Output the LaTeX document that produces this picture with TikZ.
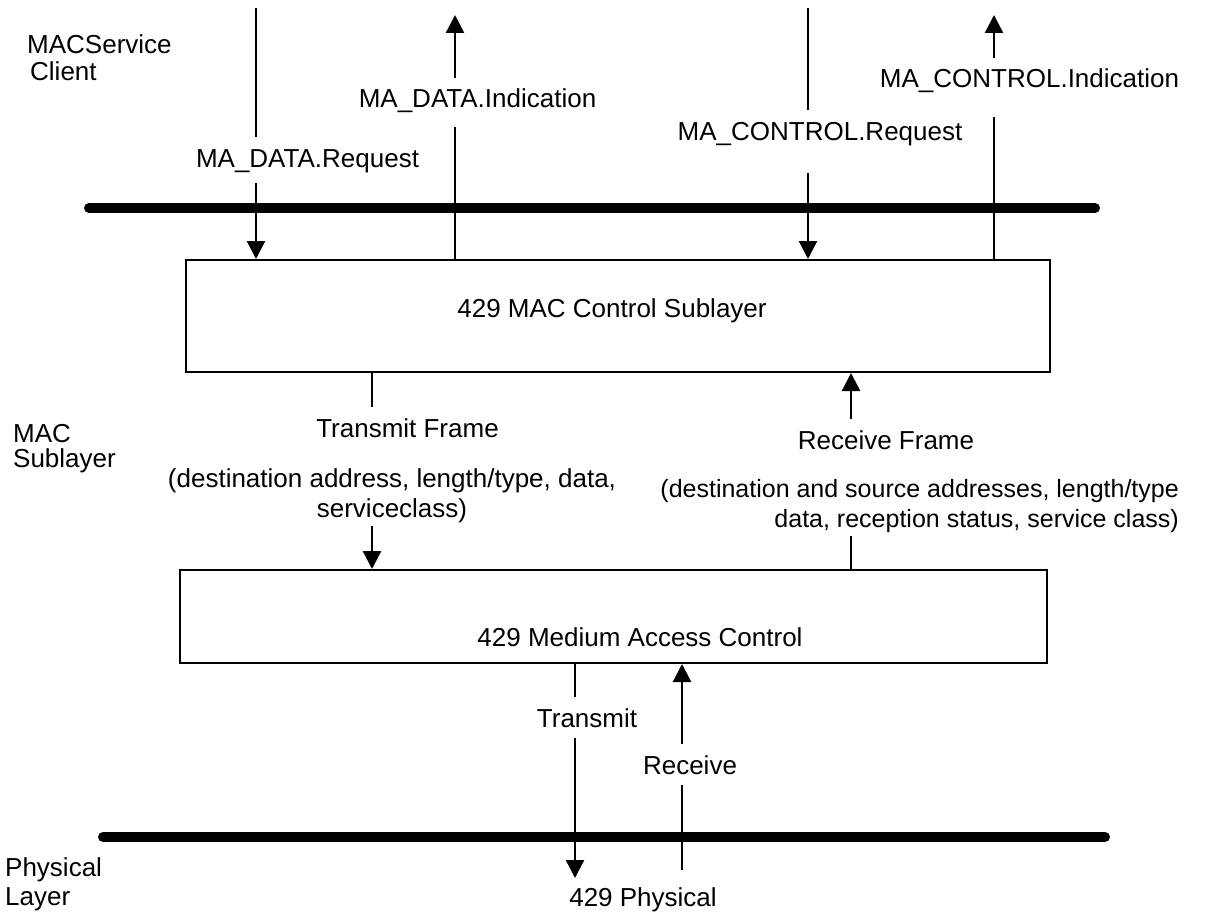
\documentclass[tikz,border=0pt]{standalone}
\usepackage{fontspec}
\setmainfont{Liberation Sans}
\usetikzlibrary{arrows.meta}

\tikzset{
  txt/.style={font=\fontsize{26}{27}\selectfont, inner xsep=0pt, inner ysep=11pt,
    text height=19pt, text depth=5pt, anchor=base},
  para/.style={font=\fontsize{26}{30}\selectfont, inner xsep=0pt, inner ysep=3pt},
  side/.style={font=\fontsize{26}{27}\selectfont, inner sep=0pt, align=left, anchor=north west},
  blk/.style={draw, line width=2pt, inner sep=0pt},
  wire/.style={line width=2.4pt},
  sig/.style={wire, -{Triangle[length=18pt,width=18pt]}},
  bus/.style={line width=10pt, line cap=round}
}

\begin{document}
\begin{tikzpicture}[x=1pt,y=-1pt]
\useasboundingbox (0,0) rectangle (1230,915);

% layer names
\node[side] (client) at (27,34) {MACService\\\hspace*{3pt}Client};
\node[side, font=\fontsize{26}{25}\selectfont] (sublayer) at (13,424) {MAC\\Sublayer};
\node[side, font=\fontsize{26}{29}\selectfont] (phylayer) at (5,857) {Physical\\Layer};

% buses
\coordinate (tb1) at (89,208);
\coordinate (tb2) at (1095,208);
\draw[bus] (tb1) -- (tb2);
\coordinate (bb1) at (103,837);
\coordinate (bb2) at (1105,837);
\draw[bus] (bb1) -- (bb2);

% sublayer blocks
\node[blk, minimum width=864pt, minimum height=112pt] (ctl) at (618,316) {};
\node[txt] (ctltext) at (612,317) {429 MAC Control Sublayer};
\node[blk, minimum width=867pt, minimum height=93pt] (mac) at (613.5,616.5) {};
\node[txt] (mactext) at (640,646) {429 Medium Access Control};

% service primitives
\coordinate (dreqtop) at (256,8);
\node[txt] (dreq) at (307.5,167) {MA\_DATA.Request};
\draw[wire] (dreqtop) -- (dreq.north -| dreqtop);
\draw[sig] (dreq.south -| dreqtop) -- (ctl.north -| dreqtop);

\coordinate (dindtop) at (455,15);
\node[txt, text depth=8pt] (dind) at (477.5,108) {MA\_DATA.Indication};
\draw[wire] (ctl.north -| dindtop) -- (dind.south -| dindtop);
\draw[sig] (dind.north -| dindtop) -- (dindtop);

\coordinate (creqtop) at (808,8);
\node[txt, text depth=22pt] (creq) at (820,140) {MA\_CONTROL.Request};
\draw[wire] (creqtop) -- (creq.north -| creqtop);
\draw[sig] (creq.south -| creqtop) -- (ctl.north -| creqtop);

\coordinate (cindtop) at (994,15);
\node[txt, text depth=18pt] (cind) at (1029.5,88) {MA\_CONTROL.Indication};
\draw[wire] (ctl.north -| cindtop) -- (cind.south -| cindtop);
\draw[sig] (cind.north -| cindtop) -- (cindtop);

% frames between the sublayers
\coordinate (tfx) at (372,0);
\node[txt] (tframe) at (407.5,437) {Transmit Frame};
\node[para, align=center, anchor=north] (tfdata) at (392,465)
  {(destination address, length/type, data,\\serviceclass)};
\draw[wire] (ctl.south -| tfx) -- (tframe.north -| tfx);
\draw[sig] (tfdata.south -| tfx) -- (mac.north -| tfx);

\coordinate (rfx) at (851,0);
\node[txt] (rframe) at (886,449) {Receive Frame};
\node[para, font=\fontsize{25}{30}\selectfont, align=right, anchor=north east] (rfdata) at (1179,476)
  {(destination and source addresses, length/type\\data, reception status, service class)};
\draw[wire] (mac.north -| rfx) -- (rfdata.south -| rfx);
\draw[sig] (rframe.north -| rfx) -- (ctl.south -| rfx);

% physical signalling
\coordinate (txend) at (575,878);
\node[txt, text depth=0pt] (tx) at (587,727) {Transmit};
\draw[wire] (mac.south -| txend) -- (tx.north -| txend);
\draw[sig] (tx.south -| txend) -- (txend);

\coordinate (rxend) at (682,870);
\node[txt, text depth=0pt] (rx) at (690,774) {Receive};
\draw[wire] (rxend) -- (rx.south -| rxend);
\draw[sig] (rx.north -| rxend) -- (mac.south -| rxend);

\node[txt] (phy) at (643,906) {429 Physical};
\end{tikzpicture}
\end{document}
